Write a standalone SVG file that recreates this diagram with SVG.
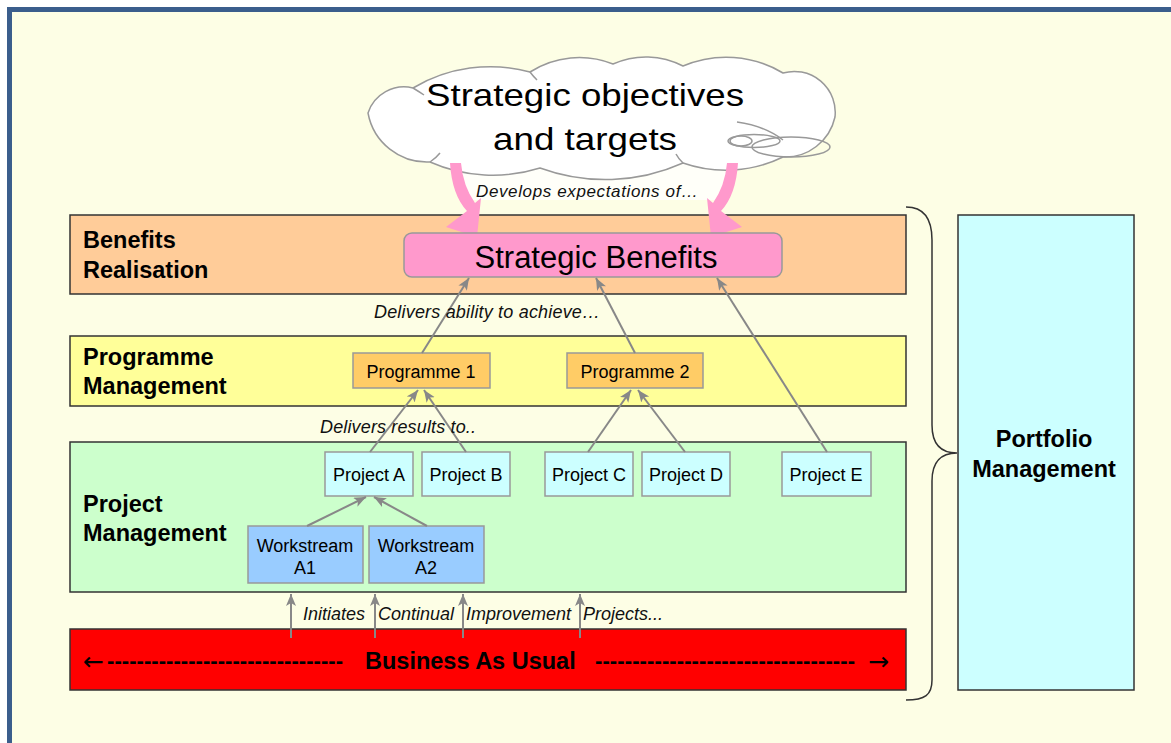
<svg xmlns="http://www.w3.org/2000/svg" width="1171" height="743" viewBox="0 0 1171 743">
  <style>
    text { font-family: "Liberation Sans", Arial, sans-serif; fill: #000; }
    .layer { stroke: #333; stroke-width: 1.5; }
    .layer-label { font-size: 23.5px; font-weight: bold; }
    .box { stroke: #999; stroke-width: 1.5; }
    .box-text { font-size: 18px; text-anchor: middle; }
    .note { font-size: 18px; font-style: italic; fill: #111; }
    .conn { stroke: #888; stroke-width: 2; fill: none; marker-end: url(#head); }
    .cloud-line { stroke: #999; stroke-width: 1.5; fill: none; }
    .bau-arrow { font-family: "DejaVu Sans", sans-serif; font-size: 25px; }
    .bau-dash { font-size: 22px; font-weight: bold; }
  </style>
  <defs>
    <marker id="head" markerUnits="userSpaceOnUse" markerWidth="14" markerHeight="12" refX="12" refY="5" orient="auto">
      <path d="M0,0 L12,5 L0,10 L3,5 z" fill="#888"/>
    </marker>
  </defs>

  <!-- page and frame -->
  <rect x="0" y="0" width="1171" height="743" fill="#ffffff"/>
  <rect x="9.5" y="9.5" width="1180" height="760" fill="#fdfee5" stroke="#3b5e8c" stroke-width="5"/>

  <!-- management layers -->
  <g id="benefits-realisation">
    <rect class="layer" x="70" y="215" width="836" height="79" fill="#ffcc99"/>
    <text class="layer-label" x="83" y="248">Benefits</text>
    <text class="layer-label" x="83" y="278">Realisation</text>
  </g>
  <g id="programme-management">
    <rect class="layer" x="70" y="336" width="836" height="70" fill="#ffff99"/>
    <text class="layer-label" x="83" y="365">Programme</text>
    <text class="layer-label" x="83" y="394">Management</text>
  </g>
  <g id="project-management">
    <rect class="layer" x="70" y="442" width="836" height="150" fill="#ccffcc"/>
    <text class="layer-label" x="83" y="512">Project</text>
    <text class="layer-label" x="83" y="541">Management</text>
  </g>
  <g id="business-as-usual">
    <rect class="layer" x="70" y="629" width="836" height="61" fill="#ff0000"/>
    <text class="bau-arrow" x="83" y="670">←</text>
    <text class="bau-dash" x="107" y="668" textLength="236" lengthAdjust="spacing">--------------------------------</text>
    <text x="365" y="669" style="font-size:23.5px;font-weight:bold">Business As Usual</text>
    <text class="bau-dash" x="595" y="668" textLength="260" lengthAdjust="spacing">-----------------------------------</text>
    <text class="bau-arrow" x="868" y="670">→</text>
  </g>
  <g id="portfolio-management">
    <rect class="layer" x="958" y="215" width="176" height="475" fill="#ccffff"/>
    <text class="layer-label" x="1044" y="447" text-anchor="middle">Portfolio</text>
    <text class="layer-label" x="1044" y="477" text-anchor="middle">Management</text>
  </g>
  <g id="brace">
    <path d="M906,207 C925,207 932,220 932,240 L932,425 C932,445 942,453 957,453 C942,453 932,461 932,481 L932,680 C932,695 925,700 906,700" fill="none" stroke="#333" stroke-width="1.5"/>
  </g>

  <!-- strategic objectives cloud -->
  <g id="strategic-objectives">
    <polygon points="458,164 732,164 728,200 466,200" fill="#ffffff" fill-opacity="0.75"/>
    <path d="M368,113 A38,38 0 0 1 413,88 A151,151 0 0 1 530,72 A91,91 0 0 1 613,64 A80,80 0 0 1 683,66 A110,110 0 0 1 783,73 A41,41 0 0 1 835,117 A51,51 0 0 1 783,157 A130,130 0 0 1 683,163 A190,190 0 0 1 540,168 A156,156 0 0 1 430,162 A60,60 0 0 1 368,113 Z" fill="#ffffff" stroke="#999" stroke-width="1.5"/>
    <path class="cloud-line" d="M413,88 Q418,91 424,95"/>
    <path class="cloud-line" d="M530,72 Q533,76 537,80"/>
    <path class="cloud-line" d="M737,122 Q765,126 783,140"/>
    <path class="cloud-line" d="M683,163 Q678,158 676,154"/>
    <path class="cloud-line" d="M430,162 Q436,158 440,153"/>
    <ellipse class="cloud-line" cx="741" cy="141" rx="11" ry="5"/>
    <ellipse class="cloud-line" cx="754" cy="141" rx="26" ry="6.5"/>
    <ellipse class="cloud-line" cx="791" cy="147" rx="39" ry="10"/>
    <text x="585" y="106" text-anchor="middle" style="font-size:32px" textLength="318" lengthAdjust="spacingAndGlyphs">Strategic objectives</text>
    <text x="585" y="150" text-anchor="middle" style="font-size:32px" textLength="184" lengthAdjust="spacingAndGlyphs">and targets</text>
  </g>

  <!-- pink block arrows from the cloud -->
  <g id="expectation-arrows" fill="#ff99cc">
    <path d="M450,163 Q452,195 467,211 L446,227 L477,237 L481,198 L475,203 Q463,186 461,163 Z"/>
    <path d="M738,163 Q736,195 721,211 L742,227 L711,237 L707,198 L713,203 Q725,186 727,163 Z"/>
  </g>
  <text class="note" x="476" y="197" style="font-size:17px" textLength="222" lengthAdjust="spacing">Develops expectations of…</text>

  <!-- delivery nodes -->
  <g id="strategic-benefits">
    <rect class="box" x="404" y="233" width="378" height="44" rx="8" fill="#ff99cc"/>
    <text x="596" y="268" text-anchor="middle" style="font-size:31px">Strategic Benefits</text>
  </g>
  <g id="programme-1">
    <rect class="box" x="353" y="353" width="137" height="35" fill="#ffcc66"/>
    <text class="box-text" x="421" y="378">Programme 1</text>
  </g>
  <g id="programme-2">
    <rect class="box" x="567" y="353" width="136" height="35" fill="#ffcc66"/>
    <text class="box-text" x="635" y="378">Programme 2</text>
  </g>
  <g id="project-a">
    <rect class="box" x="325" y="452" width="88" height="44" fill="#ccffff"/>
    <text class="box-text" x="369" y="481">Project A</text>
  </g>
  <g id="project-b">
    <rect class="box" x="422" y="452" width="88" height="44" fill="#ccffff"/>
    <text class="box-text" x="466" y="481">Project B</text>
  </g>
  <g id="project-c">
    <rect class="box" x="545" y="452" width="88" height="44" fill="#ccffff"/>
    <text class="box-text" x="589" y="481">Project C</text>
  </g>
  <g id="project-d">
    <rect class="box" x="642" y="452" width="88" height="44" fill="#ccffff"/>
    <text class="box-text" x="686" y="481">Project D</text>
  </g>
  <g id="project-e">
    <rect class="box" x="782" y="452" width="89" height="44" fill="#ccffff"/>
    <text class="box-text" x="826" y="481">Project E</text>
  </g>
  <g id="workstream-a1">
    <rect class="box" x="248" y="526" width="115" height="57" fill="#99ccff"/>
    <text class="box-text" x="305" y="552">Workstream</text>
    <text class="box-text" x="305" y="574">A1</text>
  </g>
  <g id="workstream-a2">
    <rect class="box" x="369" y="526" width="115" height="57" fill="#99ccff"/>
    <text class="box-text" x="426" y="552">Workstream</text>
    <text class="box-text" x="426" y="574">A2</text>
  </g>

  <!-- connectors -->
  <g id="connectors">
    <line class="conn" x1="422" y1="353" x2="469" y2="278"/>
    <line class="conn" x1="635" y1="353" x2="596" y2="278"/>
    <line class="conn" x1="827" y1="452" x2="717" y2="278"/>
    <line class="conn" x1="370" y1="452" x2="418" y2="390"/>
    <line class="conn" x1="466" y1="452" x2="424" y2="390"/>
    <line class="conn" x1="588" y1="452" x2="631" y2="390"/>
    <line class="conn" x1="685" y1="452" x2="638" y2="390"/>
    <line class="conn" x1="307" y1="526" x2="366" y2="497"/>
    <line class="conn" x1="427" y1="526" x2="374" y2="497"/>
    <line class="conn" x1="291" y1="638" x2="291" y2="594"/>
    <line class="conn" x1="375" y1="638" x2="375" y2="594"/>
    <line class="conn" x1="463" y1="638" x2="463" y2="594"/>
    <line class="conn" x1="580" y1="638" x2="580" y2="594"/>
  </g>

  <!-- connector labels -->
  <text class="note" x="374" y="318" textLength="226" lengthAdjust="spacing">Delivers ability to achieve…</text>
  <text class="note" x="320" y="433" textLength="156" lengthAdjust="spacing">Delivers results to..</text>
  <text class="note" x="303" y="620">Initiates</text>
  <text class="note" x="378" y="620">Continual</text>
  <text class="note" x="466" y="620">Improvement</text>
  <text class="note" x="583" y="620">Projects...</text>
</svg>
